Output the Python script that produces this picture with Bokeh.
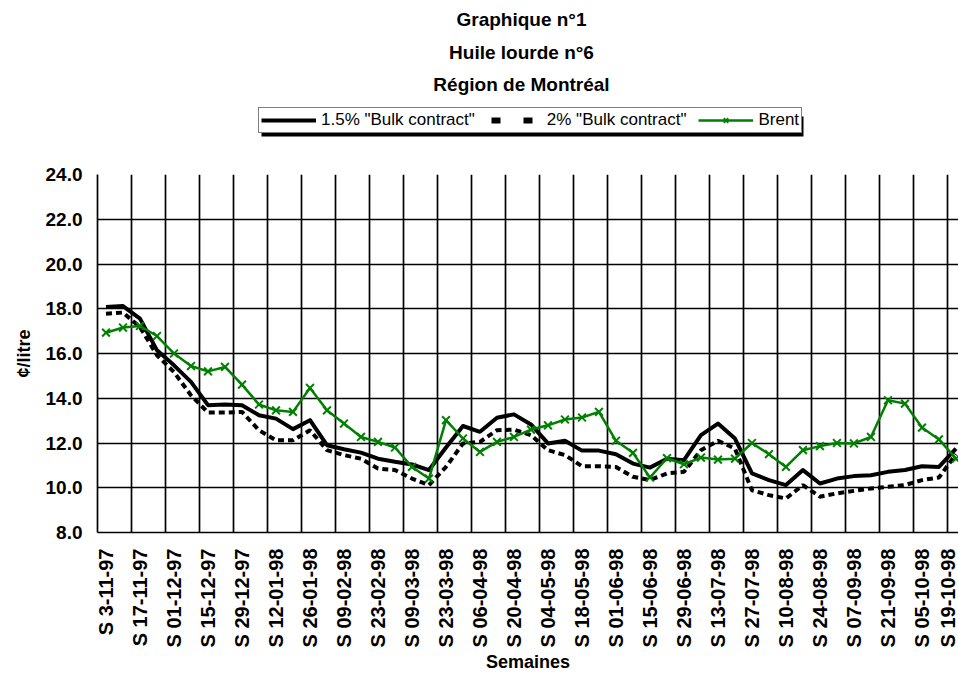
from bokeh.plotting import figure
from bokeh.layouts import column
from bokeh.models import (Range1d, FixedTicker, Label, Legend, LegendItem,
                          PrintfTickFormatter, ColumnDataSource, BoxAnnotation)
from bokeh.embed import file_html
from bokeh.resources import INLINE
import math

# ---------------- data ----------------
weeks = ["S 3-11-97", "S 10-11-97", "S 17-11-97", "S 24-11-97", "S 01-12-97", "S 08-12-97",
         "S 15-12-97", "S 22-12-97", "S 29-12-97", "S 05-01-98", "S 12-01-98", "S 19-01-98",
         "S 26-01-98", "S 02-02-98", "S 09-02-98", "S 16-02-98", "S 23-02-98", "S 02-03-98",
         "S 09-03-98", "S 16-03-98", "S 23-03-98", "S 30-03-98", "S 06-04-98", "S 13-04-98",
         "S 20-04-98", "S 27-04-98", "S 04-05-98", "S 11-05-98", "S 18-05-98", "S 25-05-98",
         "S 01-06-98", "S 08-06-98", "S 15-06-98", "S 22-06-98", "S 29-06-98", "S 06-07-98",
         "S 13-07-98", "S 20-07-98", "S 27-07-98", "S 03-08-98", "S 10-08-98", "S 17-08-98",
         "S 24-08-98", "S 31-08-98", "S 07-09-98", "S 14-09-98", "S 21-09-98", "S 28-09-98",
         "S 05-10-98", "S 12-10-98", "S 19-10-98"]

bulk_15 = [18.08, 18.12, 17.56, 16.14, 15.47, 14.73, 13.69, 13.72, 13.69, 13.24,
           13.09, 12.62, 13.02, 11.90, 11.72, 11.57, 11.30, 11.16, 11.04, 10.79,
           11.80, 12.76, 12.50, 13.13, 13.28, 12.83, 11.98, 12.10, 11.66, 11.66,
           11.50, 11.08, 10.90, 11.30, 11.23, 12.35, 12.87, 12.20, 10.64, 10.34,
           10.12, 10.79, 10.19, 10.41, 10.52, 10.56, 10.71, 10.79, 10.96, 10.93,
           11.75]

bulk_2 = [17.78, 17.83, 17.18, 15.92, 15.17, 14.13, 13.36, 13.36, 13.39, 12.57,
          12.12, 12.12, 12.57, 11.68, 11.46, 11.30, 10.86, 10.79, 10.41, 10.12,
          10.93, 11.98, 12.05, 12.57, 12.60, 12.35, 11.68, 11.46, 10.96, 10.96,
          10.93, 10.49, 10.34, 10.64, 10.71, 11.68, 12.10, 11.75, 9.89, 9.67,
          9.52, 10.12, 9.60, 9.75, 9.86, 9.97, 10.04, 10.12, 10.34, 10.46,
          11.50]

brent = [16.93, 17.16, 17.23, 16.78, 16.00, 15.44, 15.20, 15.40, 14.61, 13.72,
         13.46, 13.39, 14.46, 13.46, 12.87, 12.27, 12.05, 11.80, 10.93, 10.41,
         13.02, 12.20, 11.60, 12.05, 12.27, 12.60, 12.79, 13.05, 13.14, 13.39,
         12.10, 11.56, 10.46, 11.32, 11.05, 11.35, 11.26, 11.30, 12.00, 11.50,
         10.93, 11.68, 11.86, 12.00, 11.98, 12.27, 13.91, 13.76, 12.69, 12.16,
         11.30]

y_ticks = [8, 10, 12, 14, 16, 18, 20, 22, 24]
title_lines = ["Graphique n°1", "Huile lourde n°6", "Région de Montréal"]
series_names = ['1.5% "Bulk contract"', '2% "Bulk contract"', "Brent"]

FONT = "Liberation Sans"
GREEN = "#008000"
W = 958
TOP_H = 150
FRAME_L = 97

# ---------------- header (titles + legend) ----------------
# the column layout aligns this header's frame with the chart's frame (x from 97 to 958),
# so the x range is set in page pixels
top = figure(width=W, height=TOP_H, output_backend="svg", toolbar_location=None,
             x_range=Range1d(FRAME_L, W), y_range=Range1d(0, TOP_H),
             min_border=0, x_axis_location=None, y_axis_location=None,
             title_location=None)
top.outline_line_color = None
top.xgrid.visible = False
top.ygrid.visible = False

for txt, yy in zip(title_lines, [19, 52, 84]):
    top.add_layout(Label(x=521, y=TOP_H - yy, text=txt, text_align="center",
                         text_baseline="middle", text_font=FONT, text_font_style="bold",
                         text_font_size="19px", text_color="black"))

# legend swatch renderers (a single missing value: nothing is drawn in the header)
nan = [float("nan")]
l1 = top.line(x=nan, y=nan, line_color="black", line_width=4)
l2 = top.line(x=nan, y=nan, line_color="black", line_width=6, line_dash="9 23",
              line_dash_offset=28)
l3 = top.line(x=nan, y=nan, line_color=GREEN, line_width=2.5)
l3m = top.scatter(x=nan, y=nan, marker="x", size=11, line_color=GREEN, line_width=2)

# legend drop shadow
top.add_layout(BoxAnnotation(left=261, right=803, bottom=TOP_H - 136, top=TOP_H - 116,
                             fill_color="black", fill_alpha=1, line_color=None))

legend = Legend(items=[LegendItem(label=series_names[0], renderers=[l1]),
                       LegendItem(label=series_names[1], renderers=[l2]),
                       LegendItem(label=series_names[2], renderers=[l3, l3m])],
                location=(258 - FRAME_L, TOP_H - 133), orientation="horizontal",
                label_text_font=FONT, label_text_font_size="17px", label_text_color="black",
                glyph_width=55, glyph_height=16, label_height=16, label_standoff=5,
                spacing=12, padding=2, margin=0,
                border_line_color="black", border_line_width=1,
                background_fill_color="white", background_fill_alpha=1)
top.add_layout(legend)

# ---------------- main chart ----------------
idx = list(range(len(weeks)))
src = ColumnDataSource(dict(x=idx, b15=bulk_15, b2=bulk_2, brent=brent))

MAIN_H = 689 - TOP_H
p = figure(width=W, height=MAIN_H, output_backend="svg", toolbar_location=None,
           x_range=Range1d(-0.5, 50.15), y_range=Range1d(8, 24),
           min_border_left=FRAME_L, min_border_right=0, min_border_top=174 - TOP_H,
           min_border_bottom=689 - 532, title_location=None)
p.outline_line_color = None

p.xgrid.ticker = FixedTicker(ticks=[-0.5 + 2 * k for k in range(27)])
p.ygrid.ticker = FixedTicker(ticks=y_ticks)
for g in (p.xgrid[0], p.ygrid[0]):
    g.grid_line_color = "black"
    g.grid_line_width = 1.7

p.xaxis.ticker = FixedTicker(ticks=idx[::2])
p.xaxis.major_label_overrides = {i: weeks[i] for i in idx[::2]}
p.xaxis.major_label_orientation = math.pi / 2
p.xaxis.axis_label = "Semaines"
p.yaxis.ticker = FixedTicker(ticks=y_ticks)
p.yaxis.formatter = PrintfTickFormatter(format="%.1f")
p.yaxis.axis_label = "¢/litre"
for ax in (p.xaxis[0], p.yaxis[0]):
    ax.axis_line_color = "black"
    ax.axis_line_width = 1.7
    ax.major_tick_out = 0
    ax.major_tick_in = 0
    ax.minor_tick_out = 0
    ax.minor_tick_in = 0
    ax.major_label_text_font = FONT
    ax.major_label_text_font_style = "bold"
    ax.major_label_text_color = "black"
    ax.axis_label_text_font = FONT
    ax.axis_label_text_font_style = "bold"
    ax.axis_label_text_color = "black"
    ax.axis_label_text_font_size = "18px"
p.xaxis.major_label_text_font_size = "20px"
p.yaxis.major_label_text_font_size = "19px"
p.xaxis.major_label_standoff = 16
p.yaxis.major_label_standoff = 15
p.xaxis.axis_label_standoff = 2
p.yaxis.axis_label_standoff = 9

p.line("x", "b15", source=src, line_color="black", line_width=4, line_join="round")
p.line("x", "b2", source=src, line_color="black", line_width=4, line_dash="6 4")
p.line("x", "brent", source=src, line_color=GREEN, line_width=2.5, line_join="round")
p.scatter("x", "brent", source=src, marker="x", size=11, line_color=GREEN, line_width=2)

page = column(top, p, spacing=0)
open("out.html", "w").write(file_html(page, INLINE))
